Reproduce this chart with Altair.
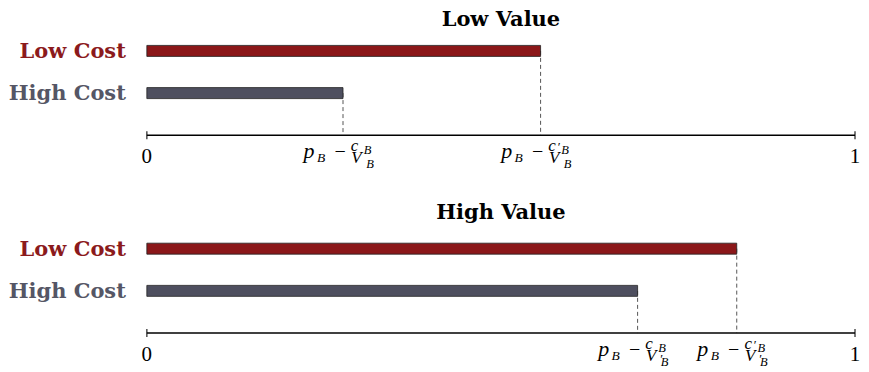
import altair as alt
import pandas as pd

# ---- data ----
panels = ["Low Value", "High Value"]
categories = ["Low Cost", "High Cost"]
low_cost_end = [0.556, 0.833]
high_cost_end = [0.277, 0.693]
num_prime = {"Low Cost": "′", "High Cost": ""}
den_prime = {"Low Value": "", "High Value": "′"}
axis_ticks = [0, 1]
tick_labels = ["0", "1"]

fill_colors = {"Low Cost": "#8b1719", "High Cost": "#4e4f5f"}
label_colors = {"Low Cost": "#8b1a1c", "High Cost": "#555665"}

SERIF = "Liberation Serif"
BOLD_SERIF = "DejaVu Serif"
ROWS = ["Low Cost", "High Cost", "axis"]
W, H = 709, 120


def panel(title, lc, hc, title_offset):
    bars = pd.DataFrame({
        "cat": categories,
        "start": [0, 0],
        "end": [lc, hc],
        "fill": [fill_colors[c] for c in categories],
        "lcol": [label_colors[c] for c in categories],
        "axisrow": ["axis", "axis"],
        "np": [num_prime[c] for c in categories],
        "dp": [den_prime[title]] * 2,
    })
    ticks = pd.DataFrame({"x": axis_ticks, "lab": tick_labels, "row": ["axis", "axis"]})
    line = pd.DataFrame({"x": [axis_ticks[0]], "x2": [axis_ticks[1]], "row": ["axis"]})

    xs = alt.Scale(domain=[0, 1], nice=False, zero=False)
    ys = alt.Scale(type="point", domain=ROWS, padding=0.42)

    X = lambda f: alt.X(f, type="quantitative", scale=xs, axis=None)
    Y = lambda f: alt.Y(f, type="nominal", scale=ys, axis=None)

    base = alt.Chart(bars)

    # invisible spacer that reserves the left margin for the row labels
    spacer = alt.Chart(line).mark_rule(xOffset=-137, x2Offset=-136, strokeOpacity=0, strokeWidth=0.1).encode(
        x=X("x"), x2="x", y=Y("row")
    )
    dashes = base.mark_rule(strokeDash=[4, 3], color="#555", strokeWidth=1).encode(
        x=X("end"), y=Y("cat"), y2="axisrow"
    )
    barm = base.mark_bar(size=11, stroke="#222", strokeWidth=0.8).encode(
        x=X("start"), x2="end", y=Y("cat"),
        fill=alt.Fill("fill:N", scale=None),
    )
    ylabels = base.mark_text(
        align="right", baseline="middle", dx=-21, dy=1, font=BOLD_SERIF, fontSize=21,
        fontWeight="bold"
    ).encode(
        x=X("start"), y=Y("cat"), text="cat:N", color=alt.Color("lcol:N", scale=None)
    )
    axline = alt.Chart(line).mark_rule(color="black", strokeWidth=1.5).encode(
        x=X("x"), x2="x2", y=Y("row")
    )
    axticks = alt.Chart(ticks).mark_tick(orient="vertical", size=8, thickness=1.5, color="black").encode(
        x=X("x"), y=Y("row")
    )
    axlabels = alt.Chart(ticks).mark_text(
        baseline="alphabetic", dy=28, font=SERIF, fontSize=21, color="black"
    ).encode(x=X("x"), y=Y("row"), text="lab:N")

    def piece(field_or_text, dx, dy, size, italic=True):
        m = base.mark_text(
            align="center", baseline="alphabetic", dx=dx, dy=dy, font=SERIF,
            fontSize=size, fontStyle="italic" if italic else "normal", color="black",
        )
        if field_or_text.startswith("@"):
            return m.encode(x=X("end"), y=Y("axisrow"), text=alt.Text(field_or_text[1:] + ":N"))
        return m.encode(x=X("end"), y=Y("axisrow"), text=alt.value(field_or_text))

    math = [
        piece("p", -34, 22.5, 22),
        piece("B", -22, 27, 13.5),
        piece("−", -3, 23, 20, italic=False),
        piece("c", 11.5, 15.5, 17),
        piece("B", 24.5, 19, 12.5),
        piece("@np", 18.5, 16, 13, italic=False),
        piece("V", 13.5, 28, 17),
        piece("B", 27, 33, 12.5),
        piece("@dp", 24, 30, 13, italic=False),
    ]

    return alt.layer(spacer, dashes, axline, axticks, barm, ylabels, axlabels, *math).properties(
        width=W, height=H,
        title=alt.TitleParams(title, font=BOLD_SERIF, fontSize=21, fontWeight="bold",
                              anchor="middle", color="black", offset=title_offset),
    )


chart = alt.vconcat(
    panel(panels[0], low_cost_end[0], high_cost_end[0], 3.5),
    panel(panels[1], low_cost_end[1], high_cost_end[1], 7.5),
    spacing=78, bounds="flush",
).properties(padding=0).configure_view(stroke=None)

chart.save("out.html", embed_options={"renderer": "svg", "actions": False})
